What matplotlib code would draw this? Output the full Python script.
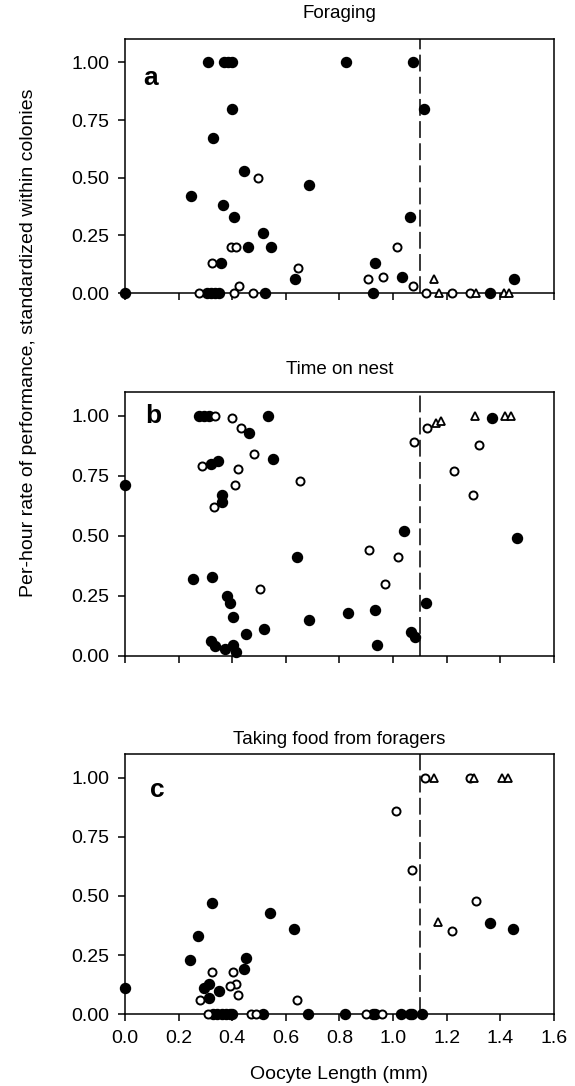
import matplotlib
matplotlib.use('Agg')
import matplotlib.pyplot as plt
import numpy as np

plt.rcParams['font.family'] = ['Liberation Sans', 'DejaVu Sans']

# oocyte length cutoff (dashed line)
cutoff = 1.1

# ---- panel a: Foraging ----
a_filled_x = [0.0, 0.31, 0.37, 0.385, 0.40, 0.40, 0.33, 0.445, 0.685, 0.245, 0.367, 0.405,
              0.514, 0.457, 0.546, 0.357, 0.635, 0.305, 0.32, 0.335, 0.35, 0.524,
              0.824, 1.073, 1.115, 1.063, 0.934, 1.033, 1.451, 0.925, 1.362]
a_filled_y = [0.0, 1.00, 1.00, 1.00, 1.00, 0.80, 0.67, 0.53, 0.47, 0.42, 0.38, 0.33,
              0.26, 0.20, 0.20, 0.13, 0.06, 0.0, 0.0, 0.0, 0.0, 0.0,
              1.00, 1.00, 0.80, 0.33, 0.13, 0.07, 0.06, 0.0, 0.0]
a_open_x = [0.497, 0.394, 0.415, 0.326, 0.645, 0.427, 0.276, 0.406, 0.477,
            1.014, 0.905, 0.962, 1.073, 1.122, 1.221, 1.288]
a_open_y = [0.50, 0.20, 0.20, 0.13, 0.11, 0.03, 0.0, 0.0, 0.0,
            0.20, 0.06, 0.07, 0.03, 0.0, 0.0, 0.0]
a_tri_x = [1.153, 1.172, 1.31, 1.412, 1.434]
a_tri_y = [0.06, 0.0, 0.0, 0.0, 0.0]

# ---- panel b: Time on nest ----
b_filled_x = [0.0, 0.276, 0.295, 0.314, 0.532, 0.464, 0.551, 0.32, 0.347, 0.363, 0.363,
              0.643, 0.252, 0.324, 0.382, 0.391, 0.403, 0.688, 0.520, 0.450, 0.322,
              0.335, 0.373, 0.404, 0.413, 1.041, 1.461, 1.121, 0.831, 0.931, 0.939,
              1.067, 1.080, 1.369]
b_filled_y = [0.71, 1.00, 1.00, 1.00, 1.00, 0.93, 0.82, 0.80, 0.81, 0.67, 0.64,
              0.41, 0.32, 0.33, 0.25, 0.22, 0.16, 0.15, 0.11, 0.09, 0.06,
              0.04, 0.03, 0.045, 0.014, 0.52, 0.49, 0.22, 0.18, 0.19, 0.045,
              0.10, 0.08, 0.99]
b_open_x = [0.335, 0.40, 0.432, 0.481, 0.421, 0.651, 0.41, 0.332, 0.503, 0.289,
            1.079, 1.127, 1.32, 1.228, 1.298, 0.911, 1.02, 0.970]
b_open_y = [1.00, 0.99, 0.95, 0.84, 0.78, 0.73, 0.71, 0.62, 0.28, 0.79,
            0.89, 0.95, 0.88, 0.77, 0.67, 0.44, 0.41, 0.30]
b_tri_x = [1.16, 1.178, 1.307, 1.416, 1.438]
b_tri_y = [0.97, 0.98, 1.00, 1.00, 1.00]

# ---- panel c: Taking food from foragers ----
c_filled_x = [0.0, 0.324, 0.273, 0.242, 0.452, 0.542, 0.632, 0.442, 0.314, 0.293,
              0.314, 0.352, 0.33, 0.345, 0.36, 0.375, 0.39, 0.40, 0.516, 0.682,
              0.822, 0.925, 0.933, 1.03, 1.063, 1.07, 1.109, 1.36, 1.449]
c_filled_y = [0.11, 0.47, 0.33, 0.23, 0.24, 0.43, 0.36, 0.19, 0.13, 0.11,
              0.07, 0.10, 0.0, 0.0, 0.0, 0.0, 0.0, 0.0, 0.0, 0.0,
              0.0, 0.0, 0.0, 0.0, 0.0, 0.0, 0.0, 0.385, 0.36]
c_open_x = [0.324, 0.403, 0.413, 0.391, 0.422, 0.28, 0.641, 0.31, 0.47, 0.488,
            0.90, 0.96, 1.01, 1.069, 1.308, 1.22, 1.119, 1.286]
c_open_y = [0.18, 0.18, 0.13, 0.12, 0.08, 0.06, 0.06, 0.0, 0.0, 0.0,
            0.0, 0.0, 0.86, 0.61, 0.48, 0.35, 1.00, 1.00]
c_tri_x = [1.152, 1.30, 1.406, 1.43, 1.168]
c_tri_y = [1.00, 1.00, 1.00, 1.00, 0.39]

panels = [
    ('Foraging', 'a', a_filled_x, a_filled_y, a_open_x, a_open_y, a_tri_x, a_tri_y),
    ('Time on nest', 'b', b_filled_x, b_filled_y, b_open_x, b_open_y, b_tri_x, b_tri_y),
    ('Taking food from foragers', 'c', c_filled_x, c_filled_y, c_open_x, c_open_y, c_tri_x, c_tri_y),
]

fig = plt.figure(figsize=(5.75, 10.86), dpi=100)

# axes rectangles (left, bottom, width, height) in figure fraction
rects = [(0.2174, 0.7302, 0.746, 0.2336),
         (0.2174, 0.3962, 0.746, 0.2431),
         (0.2174, 0.0660, 0.746, 0.2397)]
title_pads = [15, 12.5, 7]
letter_pos = [(0.043, 0.82), (0.047, 0.88), (0.058, 0.836)]

for i, (title, letter, fx, fy, ox, oy, tx, ty) in enumerate(panels):
    ax = fig.add_axes(rects[i])
    ax.axvline(cutoff, color='black', lw=1.1, linestyle=(0, (11, 3.5)), zorder=1)
    ax.plot(fx, fy, 'o', ms=7.2, color='black', mec='black', clip_on=False, zorder=3)
    ax.plot(ox, oy, 'o', ms=5.8, mfc='white', mec='black', mew=1.4, clip_on=False, zorder=4)
    ax.plot(tx, ty, '^', ms=6, mfc='white', mec='black', mew=1.3, clip_on=False, zorder=4)

    ax.set_xlim(0, 1.6)
    ax.set_ylim(0, 1.1)
    ax.set_yticks([0, 0.25, 0.5, 0.75, 1.0])
    ax.set_yticklabels(['%.2f' % v for v in [0, 0.25, 0.5, 0.75, 1.0]])
    ax.set_xticks(np.arange(0, 1.61, 0.2))
    if i == 2:
        ax.set_xticklabels(['%.1f' % v for v in np.arange(0, 1.61, 0.2)])
        ax.set_xlabel('Oocyte Length (mm)', fontsize=14, labelpad=14)
    else:
        ax.set_xticklabels([])
    ax.tick_params(direction='out', length=5, width=1.1, labelsize=14, pad=6)
    for sp in ax.spines.values():
        sp.set_linewidth(1.1)
    ax.set_title(title, fontsize=13.5, pad=title_pads[i])
    ax.text(letter_pos[i][0], letter_pos[i][1], letter, transform=ax.transAxes,
            fontsize=19, fontweight='bold', ha='left', va='baseline')

fig.text(0.05, 0.684, 'Per-hour rate of performance, standardized within colonies',
         rotation=90, fontsize=14, ha='center', va='center')

plt.savefig('out.png', dpi=100)
